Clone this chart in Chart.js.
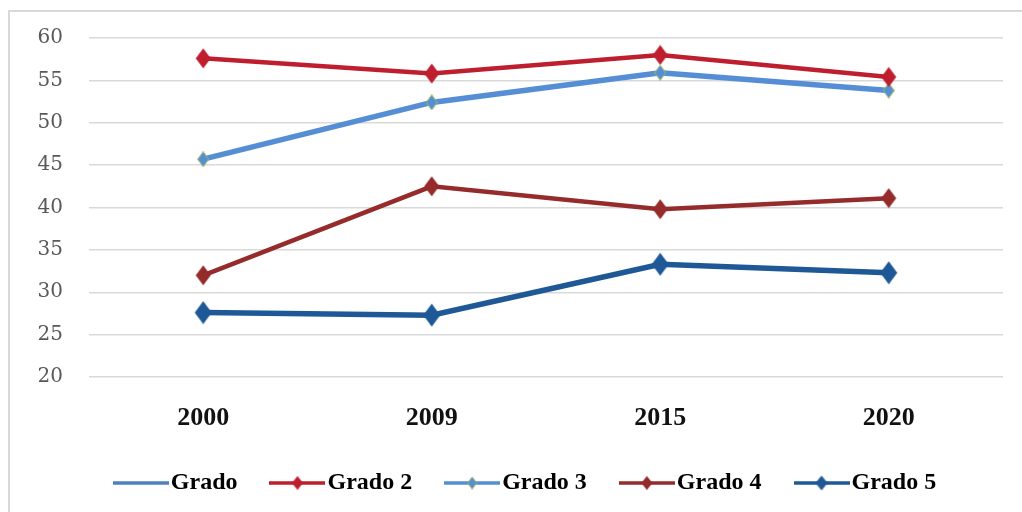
<!DOCTYPE html>
<html>
<head>
<meta charset="utf-8">
<script src="https://cdn.jsdelivr.net/npm/chart.js@4/dist/chart.umd.min.js"></script>
<style>
    body { margin: 0; background: #fff; }
    #wrap { position: relative; width: 1022px; height: 512px; overflow: hidden; }
    #frame { position: absolute; left: 8px; top: 10px; width: 1100px; height: 600px;
             border-top: 2px solid #d9d9d9; border-left: 2px solid #d9d9d9; }
    #chart { position: absolute; left: 0; top: 0; }
</style>
</head>
<body>
<div id="wrap">
    <div id="frame"></div>
    <canvas id="chart" width="1022" height="512"></canvas>
</div>
<script>
const years = ['2000', '2009', '2015', '2020'];
const seriesNames = ['Grado', 'Grado 2', 'Grado 3', 'Grado 4', 'Grado 5'];
const grado1 = [];
const grado2 = [57.6, 55.8, 58.0, 55.4];
const grado3 = [45.7, 52.4, 55.9, 53.8];
const grado4 = [32.0, 42.5, 39.8, 41.1];
const grado5 = [27.6, 27.3, 33.3, 32.3];
const yTicks = [20, 25, 30, 35, 40, 45, 50, 55, 60];

// diamond marker as small canvas (markers are a bit taller than wide)
function diamond(w, h, fill, stroke) {
    const c = document.createElement('canvas');
    c.width = w; c.height = h;
    const g = c.getContext('2d');
    g.beginPath();
    g.moveTo(w / 2, 0.5);
    g.lineTo(w - 0.5, h / 2);
    g.lineTo(w / 2, h - 0.5);
    g.lineTo(0.5, h / 2);
    g.closePath();
    g.fillStyle = fill;
    g.fill();
    if (stroke) { g.strokeStyle = stroke; g.lineWidth = 1; g.stroke(); }
    return c;
}

// legend symbol: line with a diamond in the middle
function legendIcon(color, lw, mark) {
    const c = document.createElement('canvas');
    c.width = 56; c.height = 20;
    const g = c.getContext('2d');
    g.strokeStyle = color;
    g.lineWidth = lw;
    g.beginPath();
    g.moveTo(0, 10); g.lineTo(56, 10);
    g.stroke();
    if (mark) g.drawImage(mark, 28 - mark.width / 2, 10 - mark.height / 2);
    return c;
}

const colors = ['#4f81bd', '#be1e2d', '#558ed5', '#952b2b', '#1f5896'];
const marks = [
    null,
    diamond(16, 21, colors[1]),
    diamond(12, 16, colors[2], '#9bbb59'),
    diamond(16, 21, colors[3]),
    diamond(18, 24, colors[4])
];
const legendMarks = [
    null,
    diamond(12, 15, colors[1]),
    diamond(10, 13, colors[2], '#9bbb59'),
    diamond(12, 15, colors[3]),
    diamond(13, 16, colors[4])
];
const legendIcons = colors.map((c, i) => legendIcon(c, 3.5, legendMarks[i]));

const allData = [grado1, grado2, grado3, grado4, grado5];
const widths = [4.5, 4.5, 5.5, 4.5, 5.5];

new Chart(document.getElementById('chart').getContext('2d'), {
    type: 'line',
    data: {
        labels: years,
        datasets: allData.map((d, i) => ({
            label: seriesNames[i],
            data: d,
            borderColor: colors[i],
            backgroundColor: colors[i],
            borderWidth: widths[i],
            pointStyle: marks[i] || false,
            pointRadius: marks[i] ? 9 : 0,
            tension: 0
        }))
    },
    options: {
        responsive: false,
        animation: false,
        devicePixelRatio: 1,
        layout: { padding: { left: 37, right: 0, top: 38, bottom: 7 } },
        plugins: {
            tooltip: { enabled: false },
            legend: {
                position: 'bottom',
                labels: {
                    usePointStyle: true,
                    pointStyleWidth: 36,
                    padding: 42,
                    color: '#000',
                    font: { family: 'Liberation Serif', weight: 'bold', size: 24 },
                    generateLabels: chart => Chart.defaults.plugins.legend.labels.generateLabels(chart)
                        .map(item => ({ ...item, pointStyle: legendIcons[item.datasetIndex] }))
                }
            }
        },
        scales: {
            x: {
                offset: true,
                grid: { display: false },
                border: { display: false },
                ticks: {
                    padding: 18,
                    color: '#111',
                    font: { family: 'Liberation Serif', weight: 'bold', size: 26 }
                },
                afterFit: s => { s.height = 52; }
            },
            y: {
                min: 20,
                max: 60,
                afterBuildTicks: s => { s.ticks = yTicks.map(v => ({ value: v })); },
                grid: { color: '#d9d9d9', lineWidth: 1.5, drawTicks: false },
                border: { display: false },
                ticks: {
                    padding: 26,
                    color: '#595959',
                    font: { family: 'DejaVu Serif', size: 20 }
                },
                afterFit: s => { s.width = 52; }
            },
            // empty right-hand spacer so the plot ends where the reference does
            spacer: {
                type: 'linear',
                position: 'right',
                grid: { display: false },
                border: { display: false },
                ticks: { display: false },
                afterFit: s => { s.width = 19; }
            }
        }
    }
});
</script>
</body>
</html>
